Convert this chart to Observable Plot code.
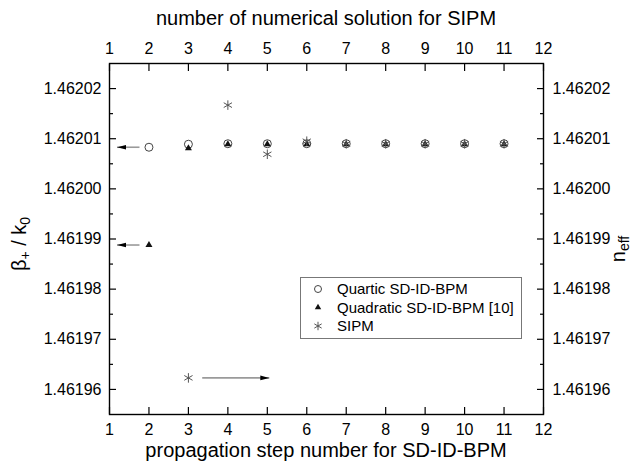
<!DOCTYPE html>
<html><head><meta charset="utf-8">
<script src="https://cdn.jsdelivr.net/npm/d3@7"></script>
<script src="https://cdn.jsdelivr.net/npm/@observablehq/plot@0.6"></script>
<style>body{margin:0;background:#fff} svg{display:block}</style>
</head><body><div id="chart"></div>
<script>
// ---- data ----
const steps = [2, 3, 4, 5, 6, 7, 8, 9, 10, 11];
const quartic = [1.4620083, 1.4620089, 1.4620090, 1.4620090, 1.4620090, 1.4620090, 1.4620090, 1.4620090, 1.4620090, 1.4620090];
const quadratic = [1.4619888, 1.4620081, 1.4620089, 1.4620089, 1.4620089, 1.4620089, 1.4620089, 1.4620089, 1.4620089, 1.4620089];
const sipmSteps = [3, 4, 5, 6, 7, 8, 9, 10, 11];
const sipm = [1.4619623, 1.4620167, 1.4620069, 1.4620095, 1.4620090, 1.4620090, 1.4620090, 1.4620090, 1.4620090];

const xTicks = [1, 2, 3, 4, 5, 6, 7, 8, 9, 10, 11, 12];
const yTicks = [1.46196, 1.46197, 1.46198, 1.46199, 1.46200, 1.46201, 1.46202];
const yMinor = [1.461965, 1.461975, 1.461985, 1.461995, 1.462005, 1.462015];

const seriesNames = ["Quartic SD-ID-BPM", "Quadratic SD-ID-BPM [10]", "SIPM"];
const topTitle = "number of numerical solution for SIPM";
const bottomTitle = "propagation step number for SD-ID-BPM";

// annotation arrows (data space): start x, tip x, y level, direction
const arrowStartX = [1.76, 1.76, 3.35];
const arrowTipX = [1.19, 1.19, 5.05];
const arrowY = [quartic[0], quadratic[0], sipm[0]];
const arrowDir = [180, 180, 0];

// ---- tables ----
const quarticData = steps.map((s, i) => ({x: s, y: quartic[i]}));
const quadraticData = steps.map((s, i) => ({x: s, y: quadratic[i]}));
const sipmData = sipmSteps.map((s, i) => ({x: s, y: sipm[i]}));
const arrows = arrowY.map((y, i) => ({x1: arrowStartX[i], x2: arrowTipX[i], y, dir: arrowDir[i]}));

const headSymbol = {draw(ctx) { ctx.moveTo(0, 0); ctx.lineTo(-9, -2.3); ctx.lineTo(-9, 2.3); ctx.closePath(); }};
const fmt = d3.format(".5f");
const axisFont = {fontSize: 16, fill: "#000"};

const plot = Plot.plot({
  width: 633, height: 468,
  marginLeft: 109, marginRight: 90, marginTop: 63, marginBottom: 54,
  style: {fontFamily: "'Liberation Sans', Arial, sans-serif", background: "#fff", color: "#000"},
  x: {domain: [1, 12]},
  y: {domain: [1.461955, 1.462025]},
  marks: [
    Plot.frame({stroke: "#000", strokeWidth: 1.4}),
    Plot.axisX({anchor: "bottom", ticks: xTicks, tickSize: -7, tickPadding: 16, label: null, ...axisFont, strokeWidth: 1.2}),
    Plot.axisX({anchor: "top", ticks: xTicks, tickSize: -7, tickPadding: 17, label: null, ...axisFont, strokeWidth: 1.2}),
    Plot.axisY({anchor: "left", ticks: yTicks, tickFormat: fmt, tickSize: -7, tickPadding: 15, label: null, ...axisFont, strokeWidth: 1.2}),
    Plot.axisY({anchor: "right", ticks: yTicks, tickFormat: fmt, tickSize: -7, tickPadding: 16, label: null, ...axisFont, strokeWidth: 1.2}),
    Plot.axisY({anchor: "left", ticks: yMinor, tickFormat: () => "", tickSize: -4, label: null, strokeWidth: 1.2}),
    Plot.axisY({anchor: "right", ticks: yMinor, tickFormat: () => "", tickSize: -4, label: null, strokeWidth: 1.2}),
    Plot.link(arrows, {x1: "x1", x2: "x2", y1: "y", y2: "y", stroke: "#9a9a9a", strokeWidth: 1.6}),
    Plot.dot(arrows, {x: "x2", y: "y", symbol: headSymbol, rotate: "dir", fill: "#000", stroke: "none"}),
    Plot.dot(quarticData, {x: "x", y: "y", symbol: "circle", r: 4, fill: "none", stroke: "#444", strokeWidth: 1}),
    Plot.dot(quadraticData, {x: "x", y: "y", symbol: "triangle", r: 2.6, fill: "#111", stroke: "none"}),
    Plot.dot(sipmData, {x: "x", y: "y", symbol: "asterisk", r: 4.5, stroke: "#555", strokeWidth: 1})
  ]
});
document.getElementById("chart").appendChild(plot);

// ---- titles & legend ----
const svg = d3.select(plot);
const ff = "'Liberation Sans', Arial, sans-serif";
svg.append("text").attr("x", 326).attr("y", 457).attr("text-anchor", "middle")
  .attr("font-size", 20).attr("font-family", ff).attr("fill", "#000").text(bottomTitle);
svg.append("text").attr("x", 326).attr("y", 25).attr("text-anchor", "middle")
  .attr("font-size", 20).attr("font-family", ff).attr("fill", "#000").text(topTitle);

const lt = svg.append("text").attr("transform", "translate(26,244) rotate(-90)").attr("text-anchor", "middle")
  .attr("font-size", 20).attr("font-family", ff).attr("fill", "#000");
lt.append("tspan").text("β");
lt.append("tspan").attr("font-size", 14).attr("dy", 4).text("+");
lt.append("tspan").attr("dy", -4).text(" / k");
lt.append("tspan").attr("font-size", 14).attr("dy", 4).text("0");

const rt = svg.append("text").attr("transform", "translate(625,249) rotate(-90)").attr("text-anchor", "middle")
  .attr("font-size", 20).attr("font-family", ff).attr("fill", "#000");
rt.append("tspan").text("n");
rt.append("tspan").attr("font-size", 14).attr("dy", 4).text("eff");

const leg = svg.append("g").attr("font-family", ff).attr("font-size", 15).attr("text-anchor", "start");
leg.append("rect").attr("x", 300.5).attr("y", 277.5).attr("width", 221).attr("height", 61)
  .attr("fill", "#fff").attr("stroke", "#777").attr("stroke-width", 1);
const legSyms = [
  {type: d3.symbolCircle, size: Math.PI * 3.5 * 3.5, fill: "none", stroke: "#444"},
  {type: d3.symbolTriangle, size: 18, fill: "#111", stroke: "none"},
  {type: d3.symbolAsterisk, size: 50, fill: "none", stroke: "#555"}
];
const rowY = [289, 307.5, 326];
seriesNames.forEach((name, i) => {
  leg.append("path").attr("transform", `translate(318,${rowY[i]})`)
    .attr("d", d3.symbol(legSyms[i].type, legSyms[i].size)())
    .attr("fill", legSyms[i].fill).attr("stroke", legSyms[i].stroke);
  leg.append("text").attr("x", 337).attr("y", rowY[i] + 5.3).attr("text-anchor", "start").attr("fill", "#000").text(name);
});
</script>
</body></html>
